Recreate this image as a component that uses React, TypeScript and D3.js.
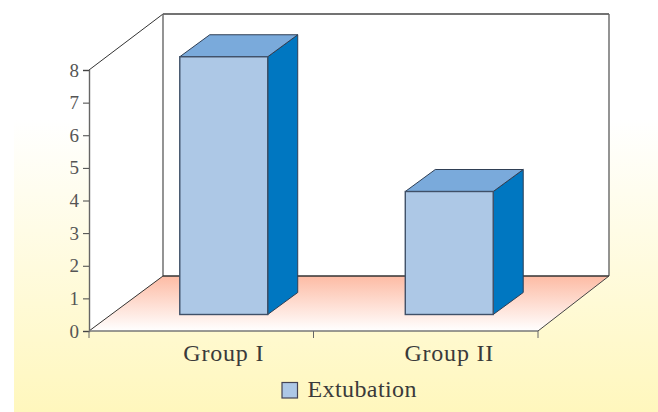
import * as d3 from 'd3';
import React from 'react';

const groups = ['Group I', 'Group II'];
const extubation = [7.9, 3.77];
const yTicks = [0, 1, 2, 3, 4, 5, 6, 7, 8];
const seriesName = 'Extubation';

const w = 658;
const h = 412;
const left = 89;
const right = 538;
const bottom = 331;
const top = 70;
// depth of the box, and where the bars stand inside it
const depthX = 74;
const depthRightX = 71;
const depthY = 55;
const barFrontX = 22;
const barFrontY = 16.5;
const barDepthX = 30;
const barDepthY = 22;
const font = "'Liberation Serif', serif";

export default function App() {
  const svgRef = React.useRef<SVGSVGElement>(null);

  React.useEffect(() => {
    if (svgRef.current == null) {
      return;
    }
    const svg = d3.select(svgRef.current);
    svg.selectAll('*').remove();

    const xScale = d3
      .scaleBand()
      .domain(groups)
      .range([left, right + 2])
      .paddingInner(0.61)
      .paddingOuter(0.305);
    const yScale = d3.scaleLinear().domain([0, 8]).range([bottom, top]);

    const defs = svg.append('defs');
    const bg = defs
      .append('linearGradient')
      .attr('id', 'bg')
      .attr('x1', 0)
      .attr('y1', 0)
      .attr('x2', 0)
      .attr('y2', 1);
    bg.append('stop').attr('offset', 0).attr('stop-color', '#ffffff');
    bg.append('stop').attr('offset', 1).attr('stop-color', '#fff7bd');
    const floor = defs
      .append('linearGradient')
      .attr('id', 'floor')
      .attr('x1', 0)
      .attr('y1', 0)
      .attr('x2', 0)
      .attr('y2', 1);
    floor.append('stop').attr('offset', 0).attr('stop-color', '#fdbba4');
    floor.append('stop').attr('offset', 1).attr('stop-color', '#ffffff');

    svg
      .append('rect')
      .attr('x', 14)
      .attr('y', 120)
      .attr('width', w - 14)
      .attr('height', h - 120)
      .attr('fill', 'url(#bg)');

    const line = d3.line();
    const backL = left + depthX;
    const backR = right + depthRightX;
    const backTop = top - depthY - 1;
    const backBottom = bottom - depthY;

    // walls
    svg
      .append('path')
      .attr(
        'd',
        line([
          [left, top],
          [backL, backTop],
          [backR, backTop],
          [backR, backBottom],
          [backL, backBottom],
          [left, bottom],
        ]) + 'Z'
      )
      .attr('fill', '#ffffff')
      .attr('stroke', 'none');

    // floor
    svg
      .append('path')
      .attr(
        'd',
        line([
          [left, bottom],
          [backL, backBottom],
          [backR, backBottom],
          [right, bottom],
        ]) + 'Z'
      )
      .attr('fill', 'url(#floor)');

    const edges: [number, number, number, number, string, number][] = [
      [left, top, backL, backTop, '#333', 1],
      [backL, backTop, backR, backTop, '#444', 1.4],
      [backL, backTop, backL, backBottom, '#666', 1.4],
      [backR, backTop, backR, backBottom, '#666', 1.4],
      [backL, backBottom, backR, backBottom, '#333', 1.4],
      [left, bottom, backL, backBottom, '#333', 1],
      [right, bottom, backR, backBottom, '#444', 1],
    ];
    svg
      .append('g')
      .selectAll('line')
      .data(edges)
      .join('line')
      .attr('x1', (d) => d[0])
      .attr('y1', (d) => d[1])
      .attr('x2', (d) => d[2])
      .attr('y2', (d) => d[3])
      .attr('stroke', (d) => d[4])
      .attr('stroke-width', (d) => d[5]);

    // axes
    const yAxis = d3
      .axisLeft(yScale)
      .tickValues(yTicks)
      .tickSize(6)
      .tickPadding(4)
      .tickFormat(d3.format('d'));
    const yG = svg
      .append('g')
      .attr('transform', `translate(${left}, 0)`)
      .call(yAxis);
    yG.select('.domain').attr('stroke', '#666').attr('stroke-width', 1.4);
    yG.selectAll('.tick line').attr('stroke', '#444');
    yG.selectAll('text')
      .style('font', `19px ${font}`)
      .attr('fill', '#555');

    const xAxis = d3.axisBottom(xScale).tickSize(0).tickPadding(13);
    const xG = svg
      .append('g')
      .attr('transform', `translate(0, ${bottom})`)
      .call(xAxis);
    xG.select('.domain').remove();
    xG.selectAll('.tick line').remove();
    xG.selectAll('text')
      .attr('dx', barFrontX)
      .style('font', `24px ${font}`)
      .style('letter-spacing', '0.8px')
      .attr('fill', '#3a3a3a');
    xG.append('line')
      .attr('x1', left)
      .attr('x2', right)
      .attr('stroke', '#777')
      .attr('stroke-width', 1.4);
    // category separators sit between the bands
    xG.selectAll('.sep')
      .data([left, (left + right) / 2, right])
      .join('line')
      .attr('class', 'sep')
      .attr('x1', (d) => d)
      .attr('x2', (d) => d)
      .attr('y1', 0)
      .attr('y2', 7)
      .attr('stroke', '#666');

    // bars
    const bars = svg
      .append('g')
      .selectAll('g')
      .data(groups.map((g, i) => ({ g, v: extubation[i] })))
      .join('g');

    const bx = (d: { g: string }) => (xScale(d.g) as number) + barFrontX;
    const by = (v: number) => yScale(v) - barFrontY;
    const bw = xScale.bandwidth();

    bars
      .append('path')
      .attr('d', (d) =>
        line([
          [bx(d) + bw, by(d.v)],
          [bx(d) + bw + barDepthX, by(d.v) - barDepthY],
          [bx(d) + bw + barDepthX, by(0) - barDepthY],
          [bx(d) + bw, by(0)],
        ]) + 'Z'
      )
      .attr('fill', '#0077c1')
      .attr('stroke', '#2f3f55')
      .attr('stroke-width', 1);
    bars
      .append('path')
      .attr('d', (d) =>
        line([
          [bx(d), by(d.v)],
          [bx(d) + barDepthX, by(d.v) - barDepthY],
          [bx(d) + bw + barDepthX, by(d.v) - barDepthY],
          [bx(d) + bw, by(d.v)],
        ]) + 'Z'
      )
      .attr('fill', '#7aaadb')
      .attr('stroke', '#2f3f55')
      .attr('stroke-width', 1);
    bars
      .append('rect')
      .attr('x', bx)
      .attr('y', (d) => by(d.v))
      .attr('width', bw)
      .attr('height', (d) => by(0) - by(d.v))
      .attr('fill', '#adc8e6')
      .attr('stroke', '#3f5068')
      .attr('stroke-width', 1.4);

    // legend
    svg
      .append('rect')
      .attr('x', 282)
      .attr('y', 382.5)
      .attr('width', 15.5)
      .attr('height', 15.5)
      .attr('fill', '#adc8e6')
      .attr('stroke', '#445')
      .attr('stroke-width', 1.2);
    svg
      .append('text')
      .attr('x', 307.5)
      .attr('y', 397)
      .style('font', `24px ${font}`)
      .style('letter-spacing', '0.4px')
      .attr('fill', '#3a3a3a')
      .text(seriesName);
  }, []);

  return (
    <svg
      ref={svgRef}
      width={w}
      height={h}
      style={{ position: 'absolute', left: 0, top: 0 }}
    ></svg>
  );
}
